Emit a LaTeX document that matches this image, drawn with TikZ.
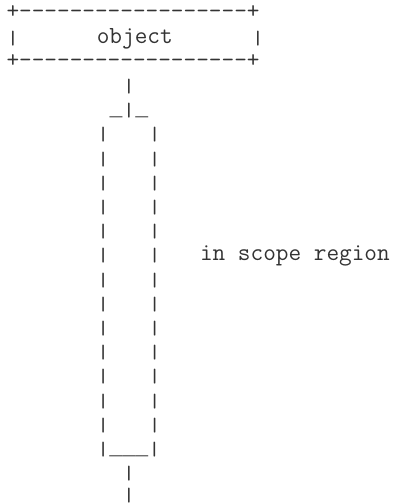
\documentclass[tikz,border=0pt]{standalone}
\usepackage{fontspec}
\usepackage{graphicx}
\newfontfamily\undermono{Liberation Mono}
\tikzset{
  asc/.style={inner sep=0pt, outer sep=0pt, anchor=base west,
    font=\ttfamily\fontsize{24.57pt}{24.2pt}\selectfont, text=black!80},
}
% a vertical bar glyph of the height the reference's font gives
\newcommand\vbarglyph{\raisebox{-1pt}{\scalebox{1}[0.785]{|}}}
% a full-cell underscore
\newcommand\uscglyph{{\undermono\fontsize{21.5pt}{24.2pt}\selectfont\textunderscore}}
% column c, row r -> base-left position of a character cell
\newcommand\asccell[4]{\node[asc] (#1) at ({6.5pt+#2*12.9pt},{-18.8pt-#3*24.2pt}) {#4};}
\newcommand\dashrun{\foreach \i in {1,...,18}{\hbox{-}}}
\begin{document}
\begin{tikzpicture}
\useasboundingbox (0,0) rectangle (396pt,-504pt);
% object box
\asccell{topborder}{0}{0}{\hbox{+}\dashrun\hbox{+}}
\asccell{objleft}{0}{1}{\vbarglyph}
\asccell{object}{7}{1}{object}
\asccell{objright}{19}{1}{\vbarglyph}
\asccell{botborder}{0}{2}{\hbox{+}\dashrun\hbox{+}}
% lifeline into the activation
\asccell{life1}{9}{3}{\vbarglyph}
\asccell{acttop}{8}{4}{\uscglyph\vbarglyph\uscglyph}
% activation box sides
\foreach \r in {5,...,17}{
  \asccell{actL\r}{7}{\r}{\vbarglyph}
  \asccell{actR\r}{11}{\r}{\vbarglyph}
}
\asccell{scope}{15}{10}{in scope region}
\asccell{actbot}{7}{18}{\vbarglyph\uscglyph\uscglyph\uscglyph\vbarglyph}
% lifeline below
\asccell{life2}{9}{19}{\vbarglyph}
\asccell{life3}{9}{19.92}{\vbarglyph}
\end{tikzpicture}
\end{document}
